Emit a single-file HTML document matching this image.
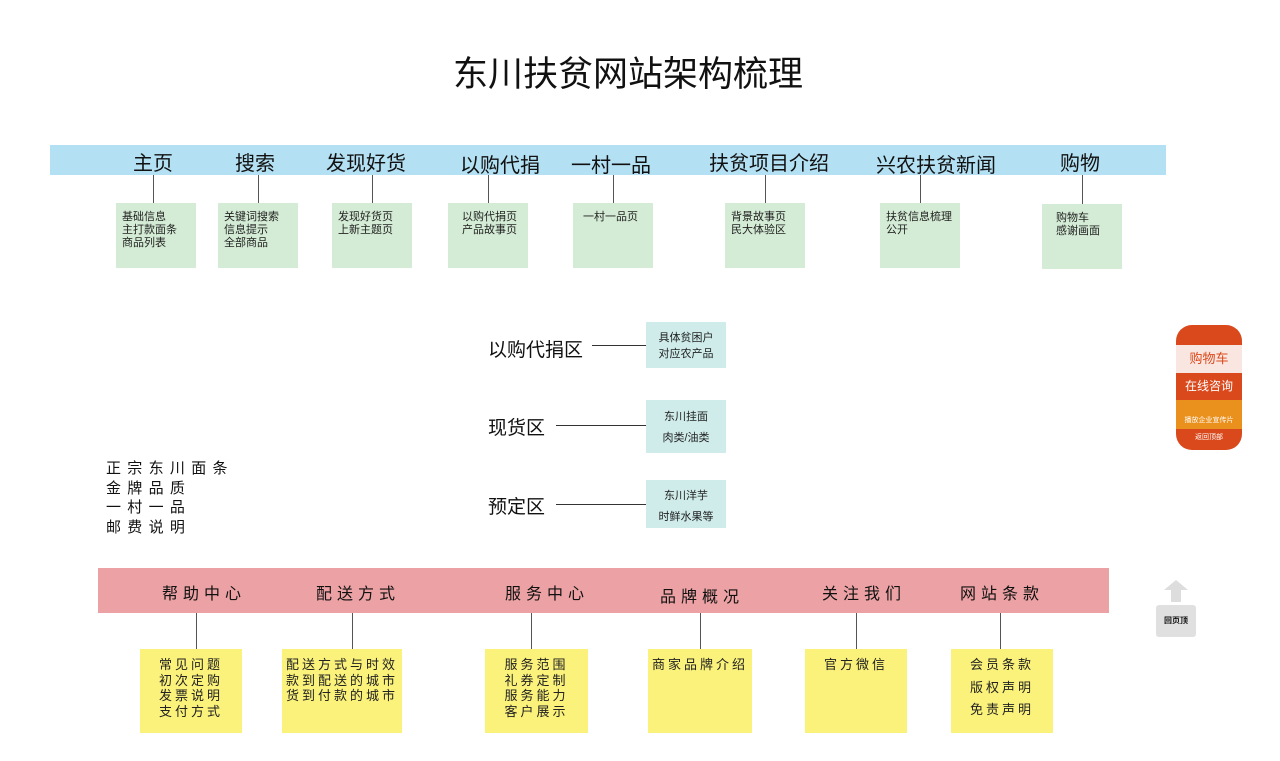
<!DOCTYPE html>
<html><head><meta charset="utf-8"><style>
*{margin:0;padding:0;box-sizing:border-box}
body{width:1280px;height:761px;background:#fff;position:relative;overflow:hidden;font-family:"Liberation Sans","Noto Sans CJK SC",sans-serif;color:#111}
.a{position:absolute}
.t{position:absolute;white-space:nowrap;transform:translateX(-50%)}
.vl{position:absolute;width:1px;background:#555}
.hl{position:absolute;height:1px;background:#333}
.g{position:absolute;background:#d4ecd5;font-size:11px;line-height:13px;padding:8px 0 0 6px;color:#222}
.c{position:absolute;background:#cfeceb;font-size:11px;color:#222;text-align:center}
.y{position:absolute;background:#fbf27b;font-size:13px;letter-spacing:3px;line-height:15.5px;text-align:center;padding-top:8px;color:#222}
.bt{position:absolute;white-space:nowrap;transform:translateX(-50%);font-size:16px;letter-spacing:5px;top:580px}
</style></head><body>
<div class="t" style="left:628px;top:46px;font-size:35px">东川扶贫网站架构梳理</div>

<div class="a" style="left:50px;top:145px;width:1116px;height:30px;background:#b4e0f3"></div>
<div class="t" style="left:153px;top:147px;font-size:20px">主页</div>
<div class="t" style="left:255px;top:147px;font-size:20px">搜索</div>
<div class="t" style="left:366px;top:147px;font-size:20px">发现好货</div>
<div class="t" style="left:500px;top:149px;font-size:20px">以购代捐</div>
<div class="t" style="left:611px;top:149px;font-size:20px">一村一品</div>
<div class="t" style="left:769px;top:147px;font-size:20px">扶贫项目介绍</div>
<div class="t" style="left:936px;top:149px;font-size:20px">兴农扶贫新闻</div>
<div class="t" style="left:1080px;top:147px;font-size:20px">购物</div>

<div class="vl" style="left:153px;top:175px;height:29px"></div>
<div class="vl" style="left:258px;top:175px;height:29px"></div>
<div class="vl" style="left:372px;top:175px;height:29px"></div>
<div class="vl" style="left:488px;top:175px;height:29px"></div>
<div class="vl" style="left:613px;top:175px;height:29px"></div>
<div class="vl" style="left:765px;top:175px;height:29px"></div>
<div class="vl" style="left:920px;top:175px;height:29px"></div>
<div class="vl" style="left:1082px;top:175px;height:29px"></div>

<div class="g" style="left:116px;top:203px;width:80px;height:65px">基础信息<br>主打款面条<br>商品列表</div>
<div class="g" style="left:218px;top:203px;width:80px;height:65px">关键词搜索<br>信息提示<br>全部商品</div>
<div class="g" style="left:332px;top:203px;width:80px;height:65px">发现好货页<br>上新主题页</div>
<div class="g" style="left:448px;top:203px;width:80px;height:65px;padding-left:14px">以购代捐页<br>产品故事页</div>
<div class="g" style="left:573px;top:203px;width:80px;height:65px;padding-left:10px">一村一品页</div>
<div class="g" style="left:725px;top:203px;width:80px;height:65px">背景故事页<br>民大体验区</div>
<div class="g" style="left:880px;top:203px;width:80px;height:65px">扶贫信息梳理<br>公开</div>
<div class="g" style="left:1042px;top:204px;width:80px;height:65px;padding-left:14px">购物车<br>感谢画面</div>

<div class="a" style="left:488px;top:335px;font-size:19px">以购代捐区</div>
<div class="hl" style="left:592px;top:345px;width:54px"></div>
<div class="c" style="left:646px;top:322px;width:80px;height:46px;padding-top:8px;line-height:16px">具体贫困户<br>对应农产品</div>
<div class="a" style="left:488px;top:413px;font-size:19px">现货区</div>
<div class="hl" style="left:556px;top:425px;width:90px"></div>
<div class="c" style="left:646px;top:400px;width:80px;height:53px;padding-top:7px;line-height:21px">东川挂面<br>肉类/油类</div>
<div class="a" style="left:488px;top:492px;font-size:19px">预定区</div>
<div class="hl" style="left:556px;top:504px;width:90px"></div>
<div class="c" style="left:646px;top:480px;width:80px;height:48px;padding-top:6px;line-height:21px">东川洋芋<br>时鲜水果等</div>

<div class="a" style="left:106px;top:459px;font-size:15px;letter-spacing:6.3px;line-height:19.5px">正宗东川面条<br>金牌品质<br>一村一品<br>邮费说明</div>

<div class="a" style="left:1176px;top:325px;width:66px;height:125px;background:#d9491c;border-radius:16px;overflow:hidden">
<div class="a" style="left:0;top:20px;width:66px;height:28px;background:#fae6e0;color:#d9491c;font-size:13px;text-align:center;line-height:28px">购物车</div>
<div class="a" style="left:0;top:48px;width:66px;height:27px;color:#fff;font-size:12px;text-align:center;line-height:27px">在线咨询</div>
<div class="a" style="left:0;top:75px;width:66px;height:29px;background:#ea901c;color:#fff;font-size:7px;text-align:center;line-height:42px">播放企业宣传片</div>
<div class="a" style="left:0;top:104px;width:66px;height:21px;color:#fff;font-size:7px;text-align:center;line-height:18px">返回顶部</div>
</div>

<div class="a" style="left:1164px;top:580px;width:0;height:0;border-left:12px solid transparent;border-right:12px solid transparent;border-bottom:10px solid #ddd"></div>
<div class="a" style="left:1171px;top:590px;width:10px;height:12px;background:#ddd"></div>
<div class="a" style="left:1156px;top:605px;width:40px;height:32px;background:#e0e0e0;border-radius:3px;font-size:8px;font-weight:bold;text-align:center;line-height:32px">回页顶</div>

<div class="a" style="left:98px;top:568px;width:1011px;height:45px;background:#eca2a5"></div>
<div class="bt" style="left:204px">帮助中心</div>
<div class="bt" style="left:358px">配送方式</div>
<div class="bt" style="left:547px">服务中心</div>
<div class="bt" style="left:702px;top:583px">品牌概况</div>
<div class="bt" style="left:864px">关注我们</div>
<div class="bt" style="left:1002px">网站条款</div>

<div class="vl" style="left:196px;top:613px;height:36px"></div>
<div class="vl" style="left:352px;top:613px;height:36px"></div>
<div class="vl" style="left:531px;top:613px;height:36px"></div>
<div class="vl" style="left:700px;top:613px;height:36px"></div>
<div class="vl" style="left:856px;top:613px;height:36px"></div>
<div class="vl" style="left:1000px;top:613px;height:36px"></div>

<div class="y" style="left:140px;top:649px;width:102px;height:84px">常见问题<br>初次定购<br>发票说明<br>支付方式</div>
<div class="y" style="left:282px;top:649px;width:120px;height:84px">配送方式与时效<br>款到配送的城市<br>货到付款的城市</div>
<div class="y" style="left:485px;top:649px;width:103px;height:84px">服务范围<br>礼券定制<br>服务能力<br>客户展示</div>
<div class="y" style="left:648px;top:649px;width:104px;height:84px">商家品牌介绍</div>
<div class="y" style="left:805px;top:649px;width:102px;height:84px">官方微信</div>
<div class="y" style="left:951px;top:649px;width:102px;height:84px;line-height:22.5px;padding-top:5px">会员条款<br>版权声明<br>免责声明</div>
</body></html>
